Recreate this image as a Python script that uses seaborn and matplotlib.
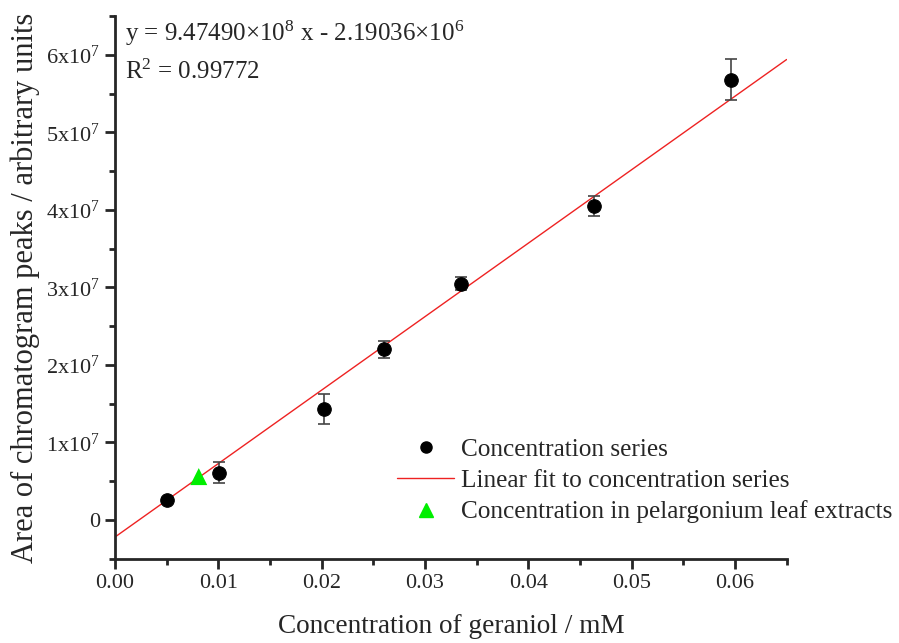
import numpy as np
import pandas as pd
import seaborn as sns
import matplotlib
matplotlib.use('Agg')
import matplotlib.pyplot as plt
from matplotlib.ticker import MultipleLocator, FuncFormatter
from matplotlib.lines import Line2D

# dados
conc = [0.00503, 0.0101, 0.0202, 0.0260, 0.0335, 0.0464, 0.0596]
area = [2.6e6, 6.1e6, 1.43e7, 2.20e7, 3.05e7, 4.05e7, 5.68e7]
erro = [0.3e6, 1.35e6, 1.9e6, 1.1e6, 0.8e6, 1.3e6, 2.6e6]

folha_conc = [0.0081]
folha_area = [5.6e6]

# ajuste linear (equação escrita no gráfico)
inclinacao = 9.47490e8
intercepto = -2.19036e6
x_fit = [0.0, 0.065]

sns.set_style('ticks')
plt.rcParams['font.family'] = ['Liberation Serif', 'DejaVu Serif']
plt.rcParams['mathtext.fontset'] = 'custom'
plt.rcParams['mathtext.rm'] = 'Liberation Serif'
plt.rcParams['mathtext.it'] = 'Liberation Serif:italic'

df = pd.DataFrame({'conc': conc, 'area': area, 'erro': erro})
df_fit = pd.DataFrame({'x': x_fit, 'y': [inclinacao * v + intercepto for v in x_fit]})
df_folha = pd.DataFrame({'x': folha_conc, 'y': folha_area})

fig = plt.figure(figsize=(8.99, 6.43), dpi=100)
ax = fig.add_axes([0.128, 0.131, 0.747, 0.844])

sns.lineplot(data=df_fit, x='x', y='y', color='#ee2222', linewidth=1.0, ax=ax)
ax.errorbar(df['conc'], df['area'], yerr=df['erro'], fmt='none', ecolor='#444444',
            elinewidth=1.2, capsize=4.5, capthick=1.2, zorder=3)
sns.scatterplot(data=df, x='conc', y='area', color='black', s=95, marker='o',
                edgecolor='black', zorder=4, ax=ax)
sns.scatterplot(data=df_folha, x='x', y='y', color='#00ee00', s=150, marker='^',
                edgecolor='none', zorder=5, ax=ax)

ax.set_xlim(0, 0.065)
ax.set_ylim(-5e6, 6.5e7)
ax.xaxis.set_major_locator(MultipleLocator(0.01))
ax.xaxis.set_minor_locator(MultipleLocator(0.005))
ax.yaxis.set_major_locator(MultipleLocator(1e7))
ax.yaxis.set_minor_locator(MultipleLocator(5e6))
ax.xaxis.set_major_formatter(FuncFormatter(lambda v, p: f'{v:.2f}'))


def fmt_y(v, p):
    n = int(round(v / 1e7))
    if n == 0:
        return '0'
    return f'{n}x10$^{{7}}$'


ax.yaxis.set_major_formatter(FuncFormatter(fmt_y))

sns.despine(ax=ax)
for s in ['left', 'bottom']:
    ax.spines[s].set_linewidth(2)
ax.tick_params(which='major', direction='out', length=7, width=2, labelsize=16, pad=4)
ax.tick_params(which='minor', direction='out', length=4, width=2)

ax.set_xlabel('Concentration of geraniol / mM', fontsize=19.6, labelpad=15)
ax.set_ylabel('Area of chromatogram peaks / arbitrary units', fontsize=22, labelpad=4)

ax.text(0.015, 0.995, 'y = 9.47490×10$^{8}$ x - 2.19036×10$^{6}$', transform=ax.transAxes,
        fontsize=18, va='top', ha='left')
ax.text(0.015, 0.92, 'R$^{2}$ = 0.99772', transform=ax.transAxes,
        fontsize=18, va='top', ha='left')

handles = [
    Line2D([], [], marker='o', color='black', linestyle='none', markersize=8),
    Line2D([], [], color='#ee2222', linewidth=1.0),
    Line2D([], [], marker='^', color='#00ee00', linestyle='none', markersize=10),
]
labels = ['Concentration series', 'Linear fit to concentration series',
          'Concentration in pelargonium leaf extracts']
ax.legend(handles, labels, loc='upper left', bbox_to_anchor=(0.4305, 0.334),
          bbox_transform=fig.transFigure, frameon=False, fontsize=18.2,
          handlelength=2.25, handletextpad=0.28, labelspacing=0.33, borderaxespad=0)

fig.savefig('out.png', dpi=100)
